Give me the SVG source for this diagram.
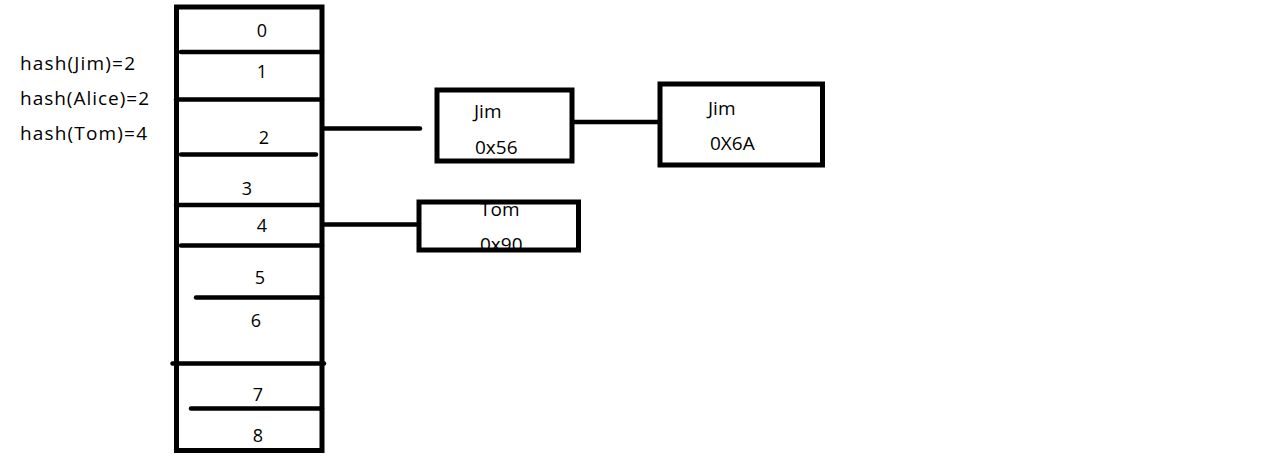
<svg xmlns="http://www.w3.org/2000/svg" width="1286" height="466" viewBox="0 0 1286 466">
<style>
text{font-family:"Open Sans","Noto Sans","Liberation Sans",sans-serif;font-size:19px;fill:#000}
.n{text-anchor:middle;font-size:18px}
.ln{stroke:#000;stroke-width:4.5;stroke-linecap:round;fill:none}
.box{stroke:#000;stroke-width:5;fill:none}
</style>
<rect width="1286" height="466" fill="#fff"/>
<g id="hash-labels">
<text x="20" y="70" textLength="115" lengthAdjust="spacing">hash(Jim)=2</text>
<text x="20" y="105" textLength="129" lengthAdjust="spacing">hash(Alice)=2</text>
<text x="20" y="140" textLength="127" lengthAdjust="spacing">hash(Tom)=4</text>
</g>
<g id="bucket-array">
<rect class="box" x="176.5" y="7" width="145.5" height="443.5"/>
<line class="ln" x1="181" y1="52" x2="322" y2="52"/>
<line class="ln" x1="176" y1="99.5" x2="322" y2="99.5"/>
<line class="ln" x1="181" y1="154.5" x2="316" y2="154.5"/>
<line class="ln" x1="176" y1="205" x2="322" y2="205"/>
<line class="ln" x1="181" y1="245.5" x2="322" y2="245.5"/>
<line class="ln" x1="196" y1="297.5" x2="322" y2="297.5"/>
<line class="ln" x1="172.5" y1="363.5" x2="324" y2="363.5"/>
<line class="ln" x1="191" y1="408.5" x2="322" y2="408.5"/>
<text class="n" x="262" y="37">0</text>
<text class="n" x="262" y="78">1</text>
<text class="n" x="264" y="144">2</text>
<text class="n" x="247" y="195">3</text>
<text class="n" x="262" y="231.5">4</text>
<text class="n" x="260" y="284">5</text>
<text class="n" x="256" y="326.5">6</text>
<text class="n" x="258" y="400.5">7</text>
<text class="n" x="258" y="441.5">8</text>
</g>
<g id="node-jim-0x56">
<text x="474" y="118">Jim</text>
<text x="475" y="154">0x56</text>
<rect class="box" x="437" y="90" width="135" height="71"/>
</g>
<g id="node-jim-0x6a">
<text x="708" y="115">Jim</text>
<text x="710" y="150">0X6A</text>
<rect class="box" x="660" y="84" width="162.5" height="81"/>
</g>
<g id="node-tom-0x90">
<text x="480" y="215.5">Tom</text>
<text x="480" y="251">0x90</text>
<rect class="box" x="419" y="202" width="159.5" height="48"/>
</g>
<g id="connectors">
<line class="ln" x1="325" y1="128.5" x2="420" y2="128.5"/>
<line class="ln" x1="574" y1="122" x2="658" y2="122"/>
<line class="ln" x1="325" y1="224.5" x2="417" y2="224.5"/>
</g>
</svg>
